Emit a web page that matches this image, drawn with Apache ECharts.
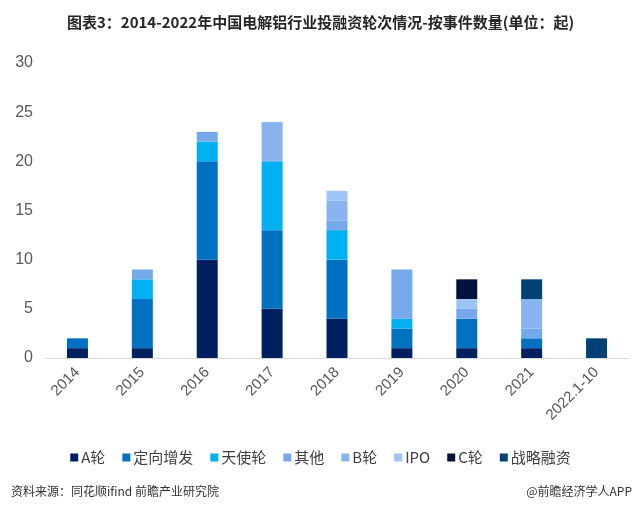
<!DOCTYPE html>
<html>
<head>
<meta charset="utf-8">
<script src="https://cdn.jsdelivr.net/npm/echarts@6/dist/echarts.min.js"></script>
<style>
body{margin:0;background:#fff;}
#chart{width:641px;height:508px;}
</style>
</head>
<body>
<div id="chart"></div>
<script>
var years = ['2014','2015','2016','2017','2018','2019','2020','2021','2022.1-10'];
var seriesNames = ['A轮','定向增发','天使轮','其他','B轮','IPO','C轮','战略融资'];
var colors = ['#002060','#0070C0','#00B0F0','#76A8EC','#8AB4F0','#9EC4F5','#00133D','#004174'];
// 各轮次事件数量
var aRound   = [1,1,10,5,4,1,1,1,0];
var dingxiang= [1,5,10,8,6,2,3,1,0];
var tianshi  = [0,2,2,7,3,1,0,0,0];
var qita     = [0,1,1,0,1,5,1,1,0];
var bRound   = [0,0,0,4,2,0,0,3,0];
var ipo      = [0,0,0,0,1,0,1,0,0];
var cRound   = [0,0,0,0,0,0,2,0,0];
var zhanlue  = [0,0,0,0,0,0,0,2,2];
var yTicks = [0,5,10,15,20,25,30];

var dataList = [aRound,dingxiang,tianshi,qita,bRound,ipo,cRound,zhanlue];
var myChart = echarts.init(document.getElementById('chart'));
var series = [];
for (var i = 0; i < seriesNames.length; i++) {
	series.push({
		name: seriesNames[i],
		type: 'bar',
		stack: 'total',
		barWidth: 21,
		itemStyle: {color: colors[i]},
		data: dataList[i].map(function(v){ return v === 0 ? '-' : v; })
	});
}

var option = {
	animation: false,
	title: [{
		text: '图表3：2014-2022年中国电解铝行业投融资轮次情况-按事件数量(单位：起)',
		left: 'center',
		top: 10,
		textStyle: {fontFamily: 'Noto Sans CJK SC', fontSize: 15, fontWeight: 'bold', color: '#262626'}
	}, {
		text: '资料来源：同花顺ifind 前瞻产业研究院',
		left: 6,
		top: 480,
		textStyle: {fontFamily: 'Noto Sans CJK SC', fontSize: 12, fontWeight: 'normal', color: '#333'}
	}, {
		text: '@前瞻经济学人APP',
		right: 4,
		top: 480,
		textStyle: {fontFamily: 'Noto Sans CJK SC', fontSize: 12, fontWeight: 'normal', color: '#333'}
	}],
	legend: {
		data: seriesNames,
		left: 'center',
		top: 445,
		itemWidth: 8,
		itemHeight: 8,
		itemGap: 17,
		icon: 'rect',
		textStyle: {fontFamily: 'Noto Sans CJK SC', fontSize: 15, color: '#404040', padding: [0,0,0,-2]}
	},
	grid: {left: 45, right: 12, top: 63, bottom: 150},
	xAxis: {
		type: 'category',
		data: years,
		axisLine: {lineStyle: {color: '#d9d9d9', width: 1}},
		axisTick: {show: false},
		axisLabel: {rotate: 45, fontSize: 15, color: '#595959', fontFamily: 'Liberation Sans', margin: 12, interval: 0}
	},
	yAxis: {
		type: 'value',
		min: 0,
		max: 30,
		interval: 5,
		axisLine: {show: false},
		axisTick: {show: false},
		splitLine: {show: false},
		axisLabel: {fontSize: 16, color: '#595959', fontFamily: 'Liberation Sans', margin: 12}
	},
	series: series
};
myChart.setOption(option);
</script>
</body>
</html>
